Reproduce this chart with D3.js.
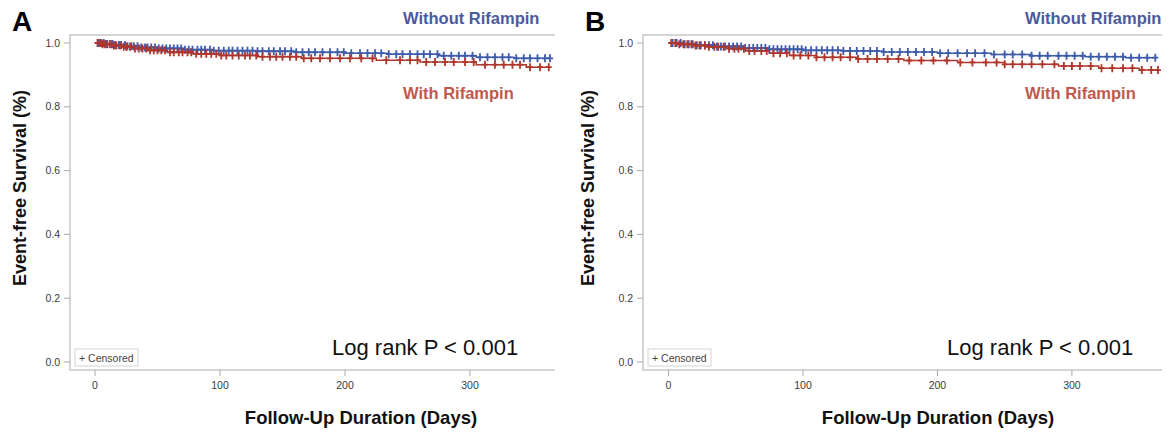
<!DOCTYPE html>
<html>
<head>
<meta charset="utf-8">
<script src="https://cdn.jsdelivr.net/npm/d3@7"></script>
<style>
  body { margin: 0; background: #fff; }
  text { font-family: "Liberation Sans", Arial, sans-serif; }
</style>
</head>
<body>
<div id="graph"></div>
<script>
// KM steps: [day, survival]
var stepsA_without = [[0,1],[8,0.997],[15,0.994],[25,0.99],[35,0.986],[50,0.983],[70,0.979],[95,0.976],[130,0.974],[160,0.971],[200,0.968],[235,0.965],[275,0.96],[305,0.955],[335,0.952]]
var stepsA_with    = [[0,1],[6,0.996],[14,0.992],[22,0.988],[30,0.983],[42,0.977],[58,0.971],[78,0.966],[100,0.961],[130,0.957],[165,0.952],[225,0.946],[260,0.94],[305,0.932],[345,0.924]]
var stepsB_without = [[0,1],[10,0.996],[20,0.993],[35,0.989],[55,0.984],[75,0.98],[100,0.977],[130,0.975],[160,0.972],[200,0.968],[240,0.964],[270,0.96],[310,0.957],[340,0.954]]
var stepsB_with    = [[0,1],[8,0.996],[18,0.992],[30,0.988],[45,0.982],[60,0.975],[75,0.968],[90,0.961],[110,0.955],[140,0.95],[175,0.945],[215,0.939],[250,0.933],[290,0.928],[320,0.921],[350,0.915]]

// censoring times (days)
var censA_without = [3,5,7,9,12,14,16,19,21,24,26,29,31,34,37,40,42,45,48,51,54,57,60,63,66,69,72,75,78,82,85,88,92,95,99,103,107,110,114,118,122,126,130,134,139,143,148,152,157,161,166,171,176,182,188,194,199,205,212,218,224,229,235,241,246,252,258,263,268,274,279,285,291,296,302,308,314,320,326,331,337,343,348,354,360,364]
var censA_with    = [2,4,6,8,10,13,15,17,20,23,25,28,32,35,38,41,44,47,50,53,56,60,63,67,70,74,77,81,85,89,93,97,101,105,110,115,120,124,129,134,140,145,150,156,161,167,173,180,188,196,204,213,222,233,244,252,258,265,272,280,287,296,303,312,320,327,334,340,348,356,363]
var censB_without = [3,6,9,12,15,18,21,24,27,30,33,36,39,42,45,48,51,54,57,60,63,66,69,72,75,78,81,84,87,90,93,96,99,102,106,110,114,118,122,126,130,135,140,145,150,155,160,166,172,178,184,190,196,202,208,215,222,228,235,242,250,256,263,270,276,282,290,296,302,308,314,320,326,332,338,344,350,356,362]
var censB_with    = [2,5,8,11,14,17,20,23,27,30,34,37,41,45,49,52,56,60,64,69,73,78,83,88,93,98,104,110,116,122,128,135,141,148,155,163,171,179,188,197,207,217,226,236,244,250,256,263,270,278,287,294,300,306,314,322,330,338,345,352,359,364]

var yTicks = [0, 0.2, 0.4, 0.6, 0.8, 1.0]
var xTicks = [0, 100, 200, 300]

var panels = [
  { label: 'A', left: 70, right: 555, xdom: [-20, 368], steps: [stepsA_without, stepsA_with], cens: [censA_without, censA_with],
    lblX: 403, logX: 332, titleX: 361, yTitleX: 26 },
  { label: 'B', left: 643, right: 1162, xdom: [-19, 367], steps: [stepsB_without, stepsB_with], cens: [censB_without, censB_with],
    lblX: 1025, logX: 947, titleX: 938, yTitleX: 594 }
]

var blue = '#3d5bab', red = '#b0352a'
var blueTxt = '#4a5a9e', redTxt = '#c0594c'
var plotTop = 35, plotBottom = 370

var svg = d3.select('#graph').append('svg')
  .attr('width', 1170).attr('height', 437)

function survAt(steps, t) {
  var s = 1
  steps.forEach(d => { if (d[0] <= t) s = d[1] })
  return s
}

panels.forEach(p => {
  var g = svg.append('g')
  var x = d3.scaleLinear().domain(p.xdom).range([p.left, p.right])
  var y = d3.scaleLinear().domain([-0.025, 1.025]).range([plotBottom, plotTop])

  // frame (top, left, bottom)
  g.append('path')
    .attr('d', `M${p.right},${plotTop}H${p.left}V${plotBottom}H${p.right}`)
    .attr('fill', 'none').attr('stroke', '#c8c8c8').attr('stroke-width', 1.5)

  yTicks.forEach(v => {
    g.append('line').attr('x1', p.left - 6).attr('x2', p.left).attr('y1', y(v)).attr('y2', y(v))
      .attr('stroke', '#aaa')
    g.append('text').attr('x', p.left - 10).attr('y', y(v)).attr('dy', '0.35em')
      .attr('text-anchor', 'end').attr('font-size', 10.5).attr('fill', '#3a3a3a')
      .text(d3.format('.1f')(v))
  })
  xTicks.forEach(v => {
    g.append('line').attr('x1', x(v)).attr('x2', x(v)).attr('y1', plotBottom).attr('y2', plotBottom + 6)
      .attr('stroke', '#aaa')
    g.append('text').attr('x', x(v)).attr('y', plotBottom + 19)
      .attr('text-anchor', 'middle').attr('font-size', 10.5).attr('fill', '#3a3a3a')
      .text(v)
  })

  // curves
  var colors = [blue, red]
  var line = d3.line().curve(d3.curveStepAfter).x(d => x(d[0])).y(d => y(d[1]))
  p.steps.forEach((s, i) => {
    var pts = s.concat([[p.cens[i][p.cens[i].length - 1], s[s.length - 1][1]]])
    g.append('path').datum(pts).attr('d', line)
      .attr('fill', 'none').attr('stroke', colors[i]).attr('stroke-width', 1.5)
  })
  p.cens.forEach((c, i) => {
    g.selectAll(null).data(c).enter().append('path')
      .attr('d', t => {
        var cx = x(t), cy = y(survAt(p.steps[i], t))
        return `M${cx - 3},${cy}H${cx + 3}M${cx},${cy - 4}V${cy + 4}`
      })
      .attr('stroke', colors[i]).attr('stroke-width', 1.8).attr('fill', 'none')
  })

  // censored legend
  var lx = x(p.xdom[0]) + 5
  g.append('rect').attr('x', lx).attr('y', plotBottom - 21).attr('width', 63).attr('height', 17)
    .attr('fill', '#fff').attr('stroke', '#d4d4d4')
  g.append('text').attr('x', lx + 4).attr('y', plotBottom - 8.5).attr('font-size', 10.5).attr('fill', '#444')
    .text('+ Censored')

  // labels
  g.append('text').attr('x', p.lblX).attr('y', 24)
    .attr('font-family', '"Open Sans", sans-serif').attr('font-weight', 700)
    .attr('font-size', 16.5).attr('fill', blueTxt).text('Without Rifampin')
  g.append('text').attr('x', p.lblX).attr('y', 99)
    .attr('font-family', '"Open Sans", sans-serif').attr('font-weight', 700)
    .attr('font-size', 16.5).attr('fill', redTxt).text('With Rifampin')

  g.append('text').attr('x', p.logX).attr('y', 355)
    .attr('font-size', 22).attr('fill', '#111').text('Log rank P < 0.001')

  g.append('text').attr('x', p.left - 58).attr('y', 31)
    .attr('font-size', 28).attr('font-weight', 700).attr('fill', '#000').text(p.label)

  g.append('text').attr('x', p.titleX).attr('y', 424).attr('text-anchor', 'middle')
    .attr('font-size', 18.5).attr('font-weight', 700).attr('fill', '#111')
    .text('Follow-Up Duration (Days)')

  g.append('text')
    .attr('transform', `translate(${p.yTitleX},188) rotate(-90)`)
    .attr('text-anchor', 'middle')
    .attr('font-size', 18).attr('font-weight', 700).attr('fill', '#111')
    .text('Event-free Survival (%)')
})
</script>
</body>
</html>
